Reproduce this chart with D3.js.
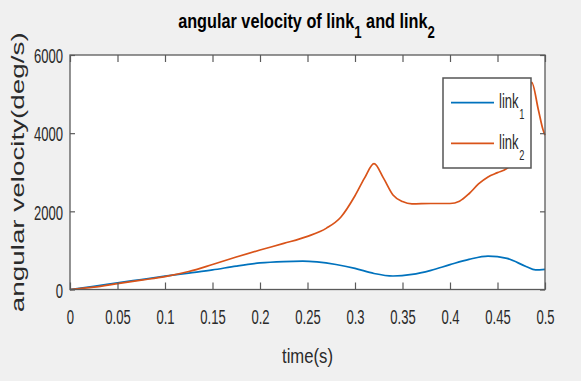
<!DOCTYPE html>
<html>
<head>
<meta charset="utf-8">
<script src="https://cdn.jsdelivr.net/npm/d3@7"></script>
<style>
  html, body { margin: 0; padding: 0; background: #f0f0f0; }
  svg { display: block; font-family: "Liberation Sans", Arial, sans-serif; }
</style>
</head>
<body>
<svg id="chart" width="581" height="381"></svg>
<script>
// time samples (s) and angular velocity (deg/s) of each link
const time1 = [0, 0.025, 0.05, 0.075, 0.1, 0.125, 0.15, 0.175, 0.2, 0.225, 0.245, 0.26, 0.28, 0.3, 0.32, 0.34, 0.36, 0.38, 0.4, 0.42, 0.44, 0.46, 0.48, 0.49, 0.5];
const link1 = [0, 80, 170, 255, 340, 420, 500, 600, 680, 715, 725, 705, 640, 540, 410, 345, 385, 490, 635, 770, 855, 795, 590, 500, 515];

const time2 = [0, 0.025, 0.05, 0.075, 0.1, 0.125, 0.15, 0.175, 0.2, 0.225, 0.25, 0.27, 0.285, 0.3, 0.31, 0.32, 0.33, 0.34, 0.35, 0.36, 0.38, 0.4, 0.41, 0.42, 0.43, 0.44, 0.45, 0.46, 0.47, 0.48, 0.486, 0.493, 0.498, 0.5];
const link2 = [0, 60, 150, 240, 330, 460, 640, 830, 1010, 1180, 1360, 1570, 1850, 2400, 2850, 3220, 2850, 2420, 2250, 2190, 2200, 2200, 2260, 2450, 2700, 2880, 2990, 3100, 3400, 4300, 5300, 4600, 4080, 3950];

const xTicks = [0, 0.05, 0.1, 0.15, 0.2, 0.25, 0.3, 0.35, 0.4, 0.45, 0.5];
const xTickLabels = ["0", "0.05", "0.1", "0.15", "0.2", "0.25", "0.3", "0.35", "0.4", "0.45", "0.5"];
const yTicks = [0, 2000, 4000, 6000];
const yTickLabels = ["0", "2000", "4000", "6000"];

const seriesNames = ["link", "link"];
const seriesSubs = ["1", "2"];
const seriesColors = ["#0072BD", "#D95319"];

const svg = d3.select("#chart");
const plot = { left: 70, right: 545, top: 55, bottom: 289.5 };
const axisColor = "#5a5a5a";
const textColor = "#2a2a2a";
const narrow = 0.67; // horizontal squeeze of the glyphs

const x = d3.scaleLinear().domain([0, 0.5]).range([plot.left, plot.right]);
const y = d3.scaleLinear().domain([0, 6000]).range([plot.bottom, plot.top]);

// white plotting area
svg.append("rect")
  .attr("x", plot.left).attr("y", plot.top)
  .attr("width", plot.right - plot.left).attr("height", plot.bottom - plot.top)
  .attr("fill", "#ffffff");

// series lines
const series = [
  { t: time1, v: link1 },
  { t: time2, v: link2 }
];
const line = d3.line()
  .x(d => x(d[0]))
  .y(d => y(d[1]))
  .curve(d3.curveMonotoneX);

series.forEach((s, i) => {
  svg.append("path")
    .datum(s.t.map((t, k) => [t, s.v[k]]))
    .attr("d", line)
    .attr("fill", "none")
    .attr("stroke", seriesColors[i])
    .attr("stroke-width", 1.7)
    .attr("stroke-linejoin", "round");
});

// axes (ticks point inward, box on all four sides)
function styleAxis(g) {
  g.select(".domain").remove();
  g.selectAll(".tick line").attr("stroke", axisColor).attr("stroke-width", 1.2);
  g.selectAll(".tick text")
    .attr("fill", textColor)
    .style("font-size", "19.5px");
}

const gBottom = svg.append("g")
  .attr("transform", `translate(0,${plot.bottom})`)
  .call(d3.axisBottom(x).tickValues(xTicks)
    .tickFormat((d, i) => xTickLabels[i])
    .tickSizeInner(-7).tickSizeOuter(0));
styleAxis(gBottom);
gBottom.selectAll(".tick text")
  .attr("y", 35).attr("dy", "0")
  .attr("transform", `scale(${narrow},1)`);

const gTop = svg.append("g")
  .attr("transform", `translate(0,${plot.top})`)
  .call(d3.axisTop(x).tickValues(xTicks).tickFormat("").tickSizeInner(-7).tickSizeOuter(0));
styleAxis(gTop);

const gLeft = svg.append("g")
  .attr("transform", `translate(${plot.left},0)`)
  .call(d3.axisLeft(y).tickValues(yTicks)
    .tickFormat((d, i) => yTickLabels[i])
    .tickSizeInner(-5).tickSizeOuter(0));
styleAxis(gLeft);
gLeft.selectAll(".tick text")
  .attr("x", -7 / narrow).attr("dy", "0.4em")
  .attr("transform", `scale(${narrow},1)`);

const gRight = svg.append("g")
  .attr("transform", `translate(${plot.right},0)`)
  .call(d3.axisRight(y).tickValues(yTicks).tickFormat("").tickSizeInner(-5).tickSizeOuter(0));
styleAxis(gRight);

// frame
svg.append("rect")
  .attr("x", plot.left).attr("y", plot.top)
  .attr("width", plot.right - plot.left).attr("height", plot.bottom - plot.top)
  .attr("fill", "none")
  .attr("stroke", axisColor)
  .attr("stroke-width", 1.3);

// scale a text element horizontally so it spans the given width
function fitWidth(textSel, cx, cy, width, rotate) {
  const w = textSel.node().getComputedTextLength();
  const s = width / w;
  if (rotate) {
    textSel.attr("transform", `translate(${cx},${cy}) rotate(-90) scale(${s},1)`);
  } else {
    textSel.attr("transform", `translate(${cx},${cy}) scale(${s},1)`);
  }
}

// title
const title = svg.append("text")
  .attr("text-anchor", "middle")
  .attr("fill", "#000")
  .style("font-size", "21px")
  .style("font-weight", "bold");
title.append("tspan").text("angular velocity of link");
title.append("tspan").attr("dy", 10).style("font-size", "17px").text("1");
title.append("tspan").attr("dy", -10).text(" and link");
title.append("tspan").attr("dy", 10).style("font-size", "17px").text("2");
fitWidth(title, 306.5, 28, 257, false);

// x label
const xLabel = svg.append("text")
  .attr("text-anchor", "middle")
  .attr("fill", textColor)
  .style("font-size", "21px")
  .text("time(s)");
fitWidth(xLabel, (plot.left + plot.right) / 2, 363, 51, false);

// y label
const yLabel = svg.append("text")
  .attr("text-anchor", "middle")
  .attr("fill", textColor)
  .style("font-size", "18px")
  .text("angular velocity(deg/s)");
fitWidth(yLabel, 24, (plot.top + plot.bottom) / 2, 280, true);

// legend
const legend = svg.append("g");
legend.append("rect")
  .attr("x", 443).attr("y", 78)
  .attr("width", 88).attr("height", 90)
  .attr("fill", "#ffffff")
  .attr("stroke", "#555")
  .attr("stroke-width", 1.5);

const legendRows = [102.7, 143.3];
seriesNames.forEach((name, i) => {
  const ly = legendRows[i];
  legend.append("line")
    .attr("x1", 451).attr("x2", 494)
    .attr("y1", ly).attr("y2", ly)
    .attr("stroke", seriesColors[i])
    .attr("stroke-width", 1.7);
  const t = legend.append("text")
    .attr("fill", textColor)
    .style("font-size", "21px")
    .attr("transform", `translate(499,${ly + 5.5}) scale(0.62,1)`);
  t.append("tspan").text(name);
  t.append("tspan").attr("dy", 11).attr("dx", 1).style("font-size", "15px").text(seriesSubs[i]);
});
</script>
</body>
</html>
